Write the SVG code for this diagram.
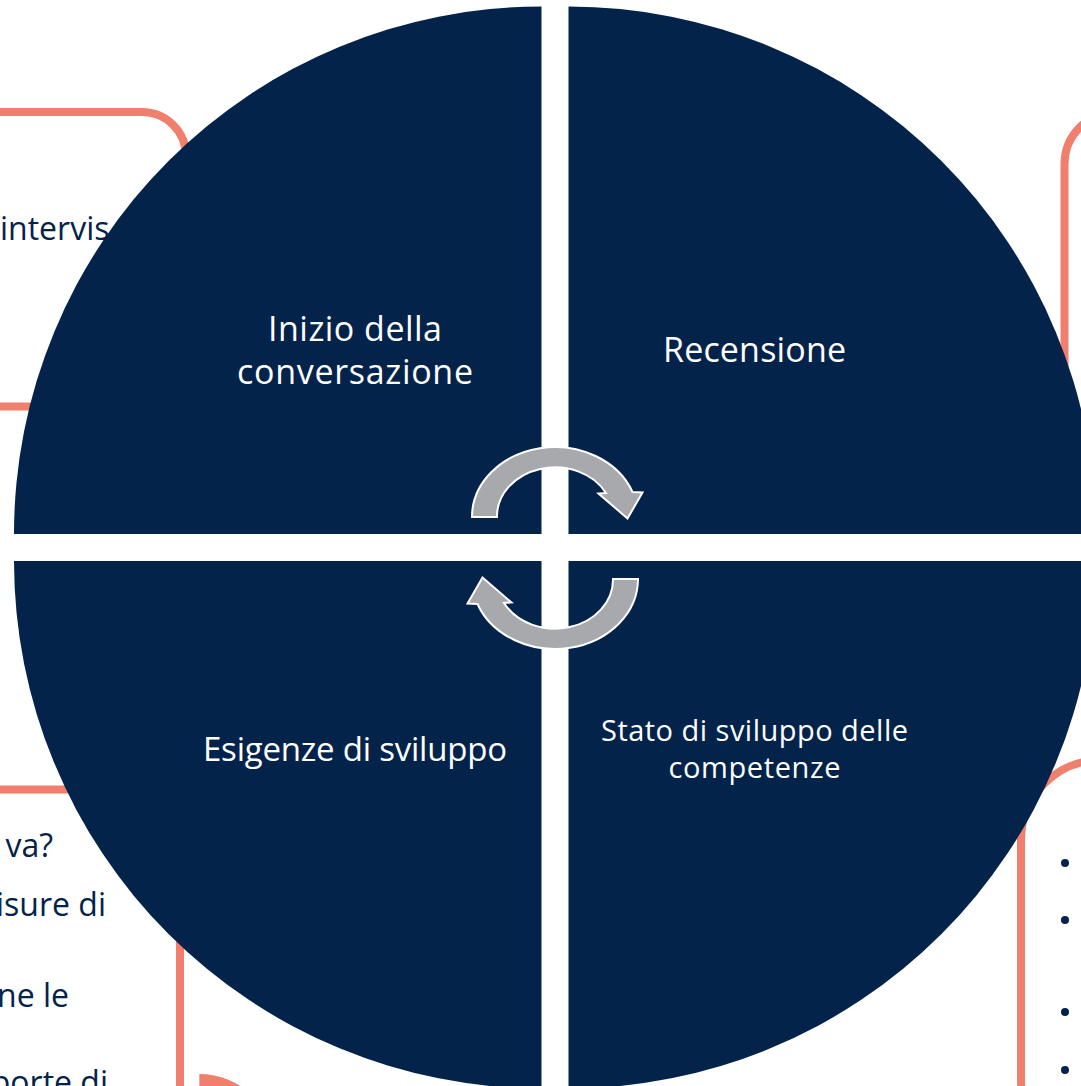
<svg xmlns="http://www.w3.org/2000/svg" width="1081" height="1086" viewBox="0 0 1081 1086">
  <style>
    .box { fill: none; stroke: #F0806D; stroke-width: 8; }
    .quad { fill: #03234B; }
    .label { font-family: "Open Sans", "Liberation Sans", sans-serif; fill: #FFFFFF; text-anchor: middle; }
    .body { font-family: "Open Sans", "Liberation Sans", sans-serif; fill: #03234B; font-size: 32px; }
    .arrow { fill: #A7A9AC; stroke: #FFFFFF; stroke-width: 2; stroke-linejoin: miter; }
  </style>
  <defs>
    <path id="cycleArrow" d="M 472 517 A 83 70 0 0 1 632.5 492 L 642.5 492.5 L 627.5 518.5 L 598.5 493.5 L 606 493 A 58 49 0 0 0 497 517 Z"/>
  </defs>
  <rect x="0" y="0" width="1081" height="1086" fill="#FFFFFF"/>

  <!-- background panels (mostly hidden behind the circle) -->
  <g id="panel-top-left">
    <rect class="box" x="-200" y="112" width="386" height="294.5" rx="44"/>
    <text class="body" x="0" y="240">intervis</text>
  </g>
  <g id="panel-top-right">
    <rect class="box" x="1064.5" y="112" width="300" height="380" rx="52"/>
  </g>
  <g id="panel-bottom-left">
    <rect class="box" x="-200" y="789.5" width="380" height="500" rx="44"/>
    <text class="body" x="53" y="857" text-anchor="end">va?</text>
    <text class="body" x="106" y="916" text-anchor="end">isure di</text>
    <text class="body" x="69" y="1007" text-anchor="end">ne le</text>
    <text class="body" x="108" y="1094" text-anchor="end">porte di</text>
  </g>
  <g id="panel-bottom-right">
    <rect class="box" x="1021" y="760" width="200" height="400" rx="80"/>
    <circle cx="1065" cy="863" r="4" fill="#03234B"/>
    <circle cx="1065" cy="920" r="4" fill="#03234B"/>
    <circle cx="1065" cy="1012" r="4" fill="#03234B"/>
    <circle cx="1065" cy="1070" r="4" fill="#03234B"/>
  </g>
  <g id="panel-bottom-corner">
    <path d="M 199.3 1150 L 199.3 1074 A 76 76 0 0 1 275.3 1150 Z" fill="#F0806D"/>
  </g>

  <!-- quadrants -->
  <g id="q-inizio">
    <path class="quad" d="M 541.5 534 L 14 534 A 527.5 527.5 0 0 1 541.5 6.5 Z"/>
    <text class="label" font-size="34" x="355" y="341" textLength="174">Inizio della</text>
    <text class="label" font-size="34" x="355" y="384" textLength="236">conversazione</text>
  </g>
  <g id="q-recensione">
    <path class="quad" d="M 568.5 534 L 568.5 6.5 A 527.5 527.5 0 0 1 1096 534 Z"/>
    <text class="label" font-size="34" x="754.5" y="362" textLength="183">Recensione</text>
  </g>
  <g id="q-esigenze">
    <path class="quad" d="M 541.5 561 L 541.5 1088.5 A 527.5 527.5 0 0 1 14 561 Z"/>
    <text class="label" font-size="33" x="355" y="761" textLength="304">Esigenze di sviluppo</text>
  </g>
  <g id="q-stato">
    <path class="quad" d="M 568.5 561 L 1096 561 A 527.5 527.5 0 0 1 568.5 1088.5 Z"/>
    <text class="label" font-size="29" x="754.5" y="741" textLength="307">Stato di sviluppo delle</text>
    <text class="label" font-size="29" x="754.5" y="778" textLength="172">competenze</text>
  </g>

  <!-- connectors -->
  <g id="connectors">
    <use href="#cycleArrow" class="arrow"/>
    <use href="#cycleArrow" class="arrow" transform="rotate(180 555 548)"/>
  </g>
</svg>
